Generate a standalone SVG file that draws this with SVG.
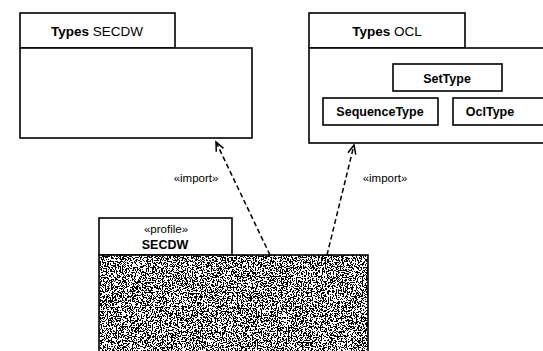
<svg xmlns="http://www.w3.org/2000/svg" width="543" height="351" viewBox="0 0 543 351">
<style>
.box{fill:#fff;stroke:#000;stroke-width:1.6}
.t{font-family:"Liberation Sans",Arial,sans-serif;fill:#000}
.b{font-weight:bold}
.lbl{font-family:"Liberation Sans",Arial,sans-serif;font-size:11.5px;fill:#000}
.dep{fill:none;stroke:#000;stroke-width:1.5;stroke-dasharray:5 3}
</style>
<defs>
<marker id="open" markerUnits="userSpaceOnUse" markerWidth="14" markerHeight="14" viewBox="0 0 14 14" refX="12" refY="7" orient="auto">
<path d="M3,3 L12,7 L3,11" fill="none" stroke="#000" stroke-width="1.5"/>
</marker>
<filter id="noise" x="0" y="0" width="1" height="1" filterUnits="objectBoundingBox">
<feTurbulence type="fractalNoise" baseFrequency="0.8" numOctaves="2" seed="3" result="n"/>
<feColorMatrix in="n" type="matrix" values="0 0 0 0 0  0 0 0 0 0  0 0 0 0 0  1.2 0.6 0 0 -0.41" result="a"/>
<feFlood flood-color="#fff" result="w"/>
<feComposite in="a" in2="w" operator="over" result="m"/>
<feComponentTransfer in="m" result="bw">
<feFuncR type="discrete" tableValues="0 1"/>
<feFuncG type="discrete" tableValues="0 1"/>
<feFuncB type="discrete" tableValues="0 1"/>
</feComponentTransfer>
<feComposite in="bw" in2="SourceGraphic" operator="in"/>
</filter>
</defs>

<g id="types-secdw">
<rect class="box" x="20" y="13" width="155" height="35"/>
<rect class="box" x="20" y="48" width="232" height="90"/>
<text class="t" x="97" y="36" text-anchor="middle" font-size="13.5"><tspan class="b">Types</tspan> SECDW</text>
</g>

<g id="types-ocl">
<rect class="box" x="309" y="13" width="156" height="35"/>
<rect class="box" x="309" y="48" width="240" height="95"/>
<text class="t" x="387" y="36" text-anchor="middle" font-size="13.5"><tspan class="b">Types</tspan> OCL</text>
</g>

<g id="settype">
<rect class="box" x="393" y="64" width="109" height="27"/>
<text class="t b" x="447" y="83" text-anchor="middle" font-size="12.5">SetType</text>
</g>

<g id="sequencetype">
<rect class="box" x="323" y="98" width="115" height="27"/>
<text class="t b" x="380" y="116" text-anchor="middle" font-size="12.5">SequenceType</text>
</g>

<g id="ocltype">
<rect class="box" x="453" y="98" width="100" height="27"/>
<text class="t b" x="490" y="116" text-anchor="middle" font-size="12.5">OclType</text>
</g>

<g id="profile-secdw">
<rect class="box" x="99" y="218" width="133" height="37"/>
<text class="t" x="166" y="233" text-anchor="middle" font-size="11.5">«profile»</text>
<text class="t b" x="165" y="249" text-anchor="middle" font-size="12.5">SECDW</text>
<rect x="99" y="255" width="269" height="100" fill="#fff" filter="url(#noise)"/>
<rect x="99" y="255" width="269" height="100" fill="none" stroke="#000" stroke-width="1.6"/>
</g>

<g id="connectors">
<line class="dep" x1="270" y1="255" x2="216" y2="142" marker-end="url(#open)"/>
<line class="dep" x1="327" y1="255" x2="354" y2="145" marker-end="url(#open)"/>
<text class="lbl" x="196" y="182" text-anchor="middle">«import»</text>
<text class="lbl" x="385" y="182" text-anchor="middle">«import»</text>
</g>
</svg>
